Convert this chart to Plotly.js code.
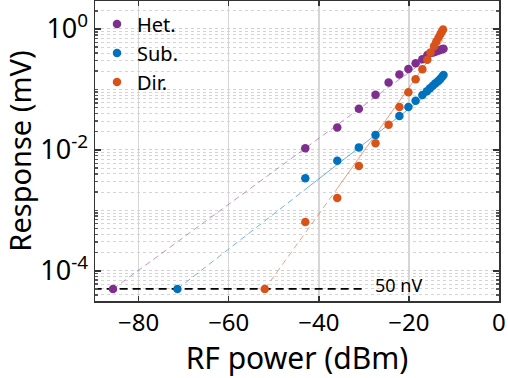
<!DOCTYPE html>
<html>
<head>
<meta charset="utf-8">
<script src="https://cdn.plot.ly/plotly-3.0.1.min.js"></script>
<style>html,body{margin:0;padding:0;background:#fff}#chart{width:508px;height:378px}</style>
</head>
<body>
<div id="chart"></div>
<script>
// Measured points (RF power in dBm, response in mV)
const hetX = [-85.7, -43.0, -35.9, -31.1, -27.4, -24.5, -22.1, -20.1, -18.5, -17.0, -15.9, -15.2, -14.6, -14.1, -13.6, -13.2, -12.7, -12.3];
const hetY = [5e-5, 0.0106, 0.0234, 0.048, 0.082, 0.13, 0.176, 0.218, 0.27, 0.316, 0.37, 0.40, 0.41, 0.42, 0.435, 0.445, 0.46, 0.47];

const subX = [-71.4, -43.0, -35.9, -31.1, -27.4, -22.1, -20.1, -18.5, -17.0, -16.0, -15.3, -14.7, -14.1, -13.5, -13.0, -12.6, -12.3];
const subY = [5e-5, 0.0034, 0.0066, 0.011, 0.0177, 0.0365, 0.051, 0.065, 0.081, 0.093, 0.105, 0.115, 0.127, 0.138, 0.150, 0.162, 0.174];

const dirX = [-52.0, -43.0, -35.9, -31.1, -27.4, -24.5, -22.1, -20.1, -18.5, -17.0, -15.9, -15.2, -14.4, -13.9, -13.4, -13.0, -12.7, -12.4];
const dirY = [5e-5, 0.00064, 0.0016, 0.0054, 0.0129, 0.026, 0.051, 0.09, 0.148, 0.216, 0.31, 0.41, 0.52, 0.62, 0.72, 0.82, 0.9, 0.98];

// Guide lines (dashed extrapolation + solid fit)
const hetFitX = [-85.7, -13.0];
const hetFitY = [5e-5, 0.46];
const subFitDashX = [-71.4, -42.6];
const subFitDashY = [5e-5, 0.00234];
const subFitSolidX = [-42.6, -12.2];
const subFitSolidY = [0.00234, 0.135];
const dirFitDashX = [-52.0, -35.9];
const dirFitDashY = [5e-5, 0.0023];
const dirFitSolidX = [-35.9, -12.5];
const dirFitSolidY = [0.0023, 0.65];

// Noise floor
const floorX = [-90, -30];
const floorY = [5e-5, 5e-5];
const floorLabel = '50 nV';

const seriesNames = ['Het.', 'Sub.', 'Dir.'];
const yTickVals = [1e-4, 1e-2, 1];
const yTickText = ['10<sup>-4</sup>', '10<sup>-2</sup>', '10<sup>0</sup>'];
const xTickVals = [-80, -60, -40, -20, 0];

const cPurple = '#7E2F8E', cBlue = '#0072BD', cOrange = '#D95319';
const lPurple = 'rgba(126,47,142,0.5)', lBlue = 'rgba(0,114,189,0.55)', lOrange = 'rgba(217,83,25,0.55)';
const dashPat = '6px,4px';

function line(x, y, color, dash, w) {
  return {x: x, y: y, mode: 'lines', type: 'scatter', showlegend: false, hoverinfo: 'skip',
          line: {color: color, width: w || 1, dash: dash}};
}
function pts(x, y, color, name) {
  return {x: x, y: y, mode: 'markers', type: 'scatter', name: name,
          marker: {color: color, size: 8.5, line: {width: 0}}};
}

const data = [
  line(hetFitX, hetFitY, lPurple, dashPat),
  line(subFitDashX, subFitDashY, lBlue, dashPat),
  line(subFitSolidX, subFitSolidY, lBlue, 'solid'),
  line(dirFitDashX, dirFitDashY, lOrange, dashPat),
  line(dirFitSolidX, dirFitSolidY, lOrange, 'solid'),
  line(floorX, floorY, '#000', '8px,5px', 1.8),
  pts(hetX, hetY, cPurple, seriesNames[0]),
  pts(subX, subY, cBlue, seriesNames[1]),
  pts(dirX, dirY, cOrange, seriesNames[2])
];

const fontFam = 'Noto Sans, Open Sans, sans-serif';
const layout = {
  width: 508, height: 378,
  margin: {l: 95, r: 9, t: 1, b: 77},
  paper_bgcolor: '#fff', plot_bgcolor: '#fff',
  font: {family: fontFam, color: '#000'},
  showlegend: true,
  legend: {x: 0.005, y: 0.988, xanchor: 'left', yanchor: 'top', bgcolor: 'rgba(0,0,0,0)',
           font: {size: 20, family: fontFam, color: '#000'}, tracegroupgap: 0},
  xaxis: {
    range: [-89.7, 0.02], tickvals: xTickVals, ticks: 'inside', ticklen: 5, tickwidth: 1.5,
    tickcolor: '#333', showline: true, linecolor: '#333', linewidth: 1.5, mirror: 'ticks',
    showgrid: true, gridcolor: '#d6d6d6', gridwidth: 1.5, zeroline: false,
    ticklabeloverflow: 'allow',
    tickfont: {size: 24, family: fontFam, color: '#000'},
    title: {text: 'RF power (dBm)', font: {size: 30, family: fontFam, color: '#000'}, standoff: 2}
  },
  yaxis: {
    type: 'log', range: [-4.5, 0.463], tickvals: yTickVals, ticktext: yTickText,
    ticks: 'inside', ticklen: 6, tickwidth: 1.5, tickcolor: '#333',
    showline: true, linecolor: '#333', linewidth: 1.5, mirror: 'ticks',
    showgrid: true, gridcolor: '#cfcfcf', gridwidth: 1, griddash: 'dot', zeroline: false,
    minor: {dtick: 'D1', ticks: 'inside', ticklen: 3, tickcolor: '#555', showgrid: true,
            gridcolor: '#d4d4d4', gridwidth: 1, griddash: 'dot'},
    tickfont: {size: 27, family: fontFam, color: '#000'},
    title: {text: 'Response (mV)', font: {size: 29, family: fontFam, color: '#000'}, standoff: 2}
  },
  annotations: [{x: -28, y: Math.log10(floorY[0]), xref: 'x', yref: 'y', text: floorLabel,
                 showarrow: false, xanchor: 'left', yanchor: 'middle', yshift: 4,
                 font: {size: 18, family: fontFam, color: '#000'}}]
};

Plotly.newPlot('chart', data, layout, {displayModeBar: false, staticPlot: true});
</script>
</body>
</html>
